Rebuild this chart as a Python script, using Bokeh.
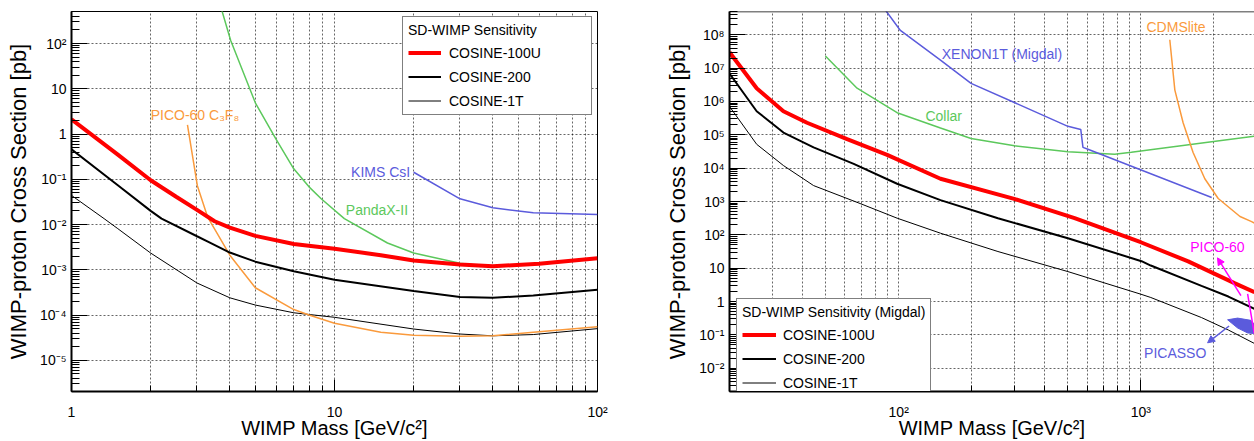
import numpy as np
from bokeh.plotting import figure
from bokeh.models import (FixedTicker, CustomJSTickFormatter, Legend, LegendItem,
                          Arrow, NormalHead, Span, Range1d)
from bokeh.layouts import row
from bokeh.embed import file_html
from bokeh.resources import INLINE
from bokeh.core.properties import value

FONT = "Liberation Sans"
RED = "#ff0000"
ORANGE = "#fa9a3c"
GREEN = "#5cc85c"
BLUE = "#5b5bdc"
MAGENTA = "#ff00ff"

# ---------------- Left panel: SD-WIMP sensitivity ----------------
L_m_100u = [1, 1.5, 2, 2.5, 3, 3.5, 4, 5, 7, 10, 15, 20, 30, 40, 60, 100]
L_s_100u = [2.1, 0.35, 0.095, 0.041, 0.021, 0.0118, 0.0085, 0.0056, 0.0037, 0.0029,
            0.0021, 0.0016, 0.0013, 0.0012, 0.00135, 0.0018]
L_m_200 = [1, 1.5, 2, 2.2, 3, 3.3, 4, 5, 7, 10, 20, 30, 40, 57, 100]
L_s_200 = [0.46, 0.074, 0.020, 0.0135, 0.0055, 0.0042, 0.0024, 0.00151, 0.00093,
           0.0006, 0.00034, 0.00025, 0.00024, 0.00027, 0.00036]
L_m_1t = [1, 1.33, 1.5, 2, 3, 4, 5, 7, 10, 20, 30, 40, 57, 100]
L_s_1t = [0.044, 0.0135, 0.0081, 0.00234, 0.00051, 0.00024, 0.000166, 0.000112,
          0.000089, 0.000049, 0.000038, 0.0000347, 0.000037, 0.00005]
L_m_pico = [2.76, 3.01, 3.29, 4, 5, 7, 8, 10, 15, 20, 30, 40, 57, 100]
L_s_pico = [1.6, 0.072, 0.0148, 0.0021, 0.0004, 0.000132, 0.0001, 0.000066, 0.0000417,
            0.0000355, 0.0000339, 0.0000347, 0.0000417, 0.000055]
L_m_panda = [3.7, 4.03, 5, 6, 7, 8, 8.9, 10.9, 15.9, 20, 30, 38]
L_s_panda = [630, 117, 4.9, 0.76, 0.17, 0.068, 0.037, 0.0135, 0.0039, 0.00234, 0.0014, 0.0012]
L_m_kims = [20, 30, 40, 57, 100]
L_s_kims = [0.143, 0.037, 0.0234, 0.0182, 0.0166]

L_lab_text = ["PICO-60 C\u2083F\u2088", "PandaX-II", "KIMS CsI"]
L_lab_m = [2.0, 11.04, 19.4]
L_lab_s = [2.57, 0.0207, 0.148]
L_lab_col = [ORANGE, GREEN, BLUE]
L_lab_align = ["left", "left", "right"]

# ---------------- Right panel: SD-WIMP sensitivity (Migdal) ----------------
R_m_100u = [20, 25.9, 33.4, 41.8, 61.2, 89.6, 148.8, 300, 533, 1000, 1570, 2450, 2950]
R_s_100u = [3.0e7, 2.5e6, 5.1e5, 2.3e5, 7.4e4, 2.5e4, 4800, 1200, 316, 60, 16, 3.5, 1.9]
R_m_200 = [20, 25.9, 33.4, 44.5, 65.2, 98.5, 148.8, 257, 500, 1007, 1100, 1782, 2300, 2950]
R_s_200 = [6.9e6, 5.1e5, 1.17e5, 4.2e4, 1.35e4, 3400, 1100, 316, 79, 16.2, 12, 2.95, 1.41, 0.6]
R_m_1t = [20, 25.9, 33.4, 44.5, 69.3, 98.5, 148.8, 257, 500, 1000, 1100, 1782, 2300, 2950]
R_s_1t = [7.1e5, 5.2e4, 1.2e4, 3000, 870, 316, 112, 31.6, 7.9, 1.66, 1.32, 0.33, 0.14, 0.055]
R_m_collar = [49.8, 67.3, 98.5, 148.8, 199, 301, 500, 780, 914, 1963, 2950]
R_s_collar = [2.3e7, 2.5e6, 4.6e5, 1.6e5, 7.8e4, 4.7e4, 3.1e4, 2.6e4, 3.0e4, 6.2e4, 9.1e4]
R_m_xenon = [88, 101.6, 148.8, 199, 500, 565, 577, 605, 1963]
R_s_xenon = [5.6e8, 1.35e8, 1.74e7, 3.5e6, 1.8e5, 1.45e5, 4.2e4, 3.7e4, 1320]
R_m_cdms = [1318, 1383, 1496, 1645, 1839, 2089, 2570, 2870, 2950]
R_s_cdms = [7.1e7, 2.2e6, 2.3e5, 2.95e4, 4800, 1230, 355, 250, 225]
R_m_pico = [2763, 2943]
R_s_pico = [1.7, 0.109]
R_m_picasso = [2284, 2512, 2851, 2962, 2962, 2764, 2512]
R_s_picasso = [0.283, 0.318, 0.272, 0.197, 0.109, 0.114, 0.161]

R_lab_text = ["XENON1T (Migdal)", "Collar", "CDMSlite", "PICO-60", "PICASSO"]
R_lab_m = [150.6, 128.9, 1056, 1600, 1866]
R_lab_s = [2.73e7, 3.6e5, 1.76e8, 42.4, 0.029]
R_lab_col = [BLUE, GREEN, ORANGE, MAGENTA, BLUE]
R_lab_align = ["left", "left", "left", "left", "right"]

# arrows: (m_start, s_start, m_end, s_end)
R_arrow_pico = (2593, 1.5, 2075, 20.4)
R_arrow_picasso = (2317, 0.184, 1888, 0.0577)

SUP_JS = r"""
const e = Math.round(Math.log10(tick));
if (e === 0) return "1";
if (e === 1) return "10";
const sup = {"-": "\u207b", "0": "\u2070", "1": "\u00b9", "2": "\u00b2", "3": "\u00b3",
             "4": "\u2074", "5": "\u2075", "6": "\u2076", "7": "\u2077", "8": "\u2078", "9": "\u2079"};
return "10" + String(e).split("").map(c => sup[c]).join("");
"""


def log_ticks(lo_exp, hi_exp, lo, hi):
    major = [10.0 ** e for e in range(lo_exp, hi_exp + 1) if lo <= 10.0 ** e <= hi]
    minor = [k * 10.0 ** e for e in range(lo_exp - 1, hi_exp + 1) for k in range(2, 10)
             if lo <= k * 10.0 ** e <= hi]
    return FixedTicker(ticks=major, minor_ticks=minor)


def make_fig(width, xr, yr, mbl, mbr):
    p = figure(width=width, height=441, x_axis_type="log", y_axis_type="log",
               x_range=Range1d(*xr), y_range=Range1d(*yr),
               output_backend="svg", toolbar_location=None,
               min_border_left=mbl, min_border_right=mbr, min_border_top=11,
               min_border_bottom=0)
    p.background_fill_color = "white"
    p.border_fill_color = "white"
    p.xaxis.ticker = log_ticks(int(np.floor(np.log10(xr[0]))), int(np.ceil(np.log10(xr[1]))), xr[0], xr[1])
    p.yaxis.ticker = log_ticks(int(np.floor(np.log10(yr[0]))), int(np.ceil(np.log10(yr[1]))), yr[0], yr[1])
    for ax in (p.xaxis[0], p.yaxis[0]):
        ax.formatter = CustomJSTickFormatter(code=SUP_JS)
        ax.axis_line_width = 2
        ax.axis_line_color = "black"
        ax.major_tick_out = 0
        ax.minor_tick_out = 0
        ax.major_tick_line_color = "black"
        ax.minor_tick_line_color = "black"
        ax.major_label_text_font = FONT
        ax.major_label_text_font_size = "14px"
        ax.major_label_text_color = "black"
        ax.axis_label_text_font = FONT
        ax.axis_label_text_font_style = "normal"
        ax.axis_label_text_color = "black"
    p.yaxis.major_tick_in = 16
    p.yaxis.minor_tick_in = 8
    p.xaxis.major_tick_in = 12
    p.xaxis.minor_tick_in = 6
    p.yaxis.major_label_standoff = 5
    p.xaxis.major_label_standoff = 12
    p.yaxis.axis_label_standoff = 6
    p.xaxis.axis_label_standoff = -6
    p.xaxis.axis_label = "WIMP Mass [GeV/c\u00b2]"
    p.yaxis.axis_label = "WIMP-proton Cross Section [pb]"
    p.xaxis.axis_label_text_font_size = "20px"
    p.yaxis.axis_label_text_font_size = "22px"
    for g in (p.xgrid[0], p.ygrid[0]):
        g.grid_line_color = "black"
        g.grid_line_alpha = 0.6
        g.grid_line_dash = "2 2"
        g.grid_line_width = 1
    p.xgrid.minor_grid_line_color = "black"
    p.xgrid.minor_grid_line_alpha = 0.6
    p.xgrid.minor_grid_line_dash = "2 2"
    p.ygrid.minor_grid_line_color = None
    return p


def style_legend(leg, title, glyph_w, standoff, label_w):
    leg.title = title
    leg.title_text_font = FONT
    leg.title_text_font_size = "14px"
    leg.title_text_font_style = "normal"
    leg.title_text_color = "black"
    leg.title_standoff = 6
    leg.label_text_font = FONT
    leg.label_text_font_size = "14px"
    leg.label_text_color = "black"
    leg.glyph_width = glyph_w
    leg.glyph_height = 17
    leg.label_height = 17
    leg.label_standoff = standoff
    leg.label_width = label_w
    leg.spacing = 7
    leg.padding = 5
    leg.border_line_color = "black"
    leg.border_line_width = 1
    leg.background_fill_color = "white"
    leg.background_fill_alpha = 1.0


# ---------------- Left figure ----------------
p1 = make_fig(660, (1, 100), (2.04e-6, 510), 71, 63)
p1.outline_line_color = "black"
p1.outline_line_width = 1

p1.line(L_m_panda, L_s_panda, line_color=GREEN, line_width=1.5)
p1.line(L_m_kims, L_s_kims, line_color=BLUE, line_width=1.5)
r1_1t = p1.line(L_m_1t, L_s_1t, line_color="black", line_width=1)
p1.line(L_m_pico, L_s_pico, line_color=ORANGE, line_width=1.5)
r1_200 = p1.line(L_m_200, L_s_200, line_color="black", line_width=2)
r1_100u = p1.line(L_m_100u, L_s_100u, line_color=RED, line_width=4)

for t, m, s, c, a in zip(L_lab_text, L_lab_m, L_lab_s, L_lab_col, L_lab_align):
    p1.text(x=[m], y=[s], text=[t], text_color=c, text_font=value(FONT),
            text_font_size="14px", text_align=a, text_baseline="middle")

leg1 = Legend(items=[LegendItem(label="COSINE-100U", renderers=[r1_100u]),
                     LegendItem(label="COSINE-200", renderers=[r1_200]),
                     LegendItem(label="COSINE-1T", renderers=[r1_1t])],
              location="top_right")
style_legend(leg1, "SD-WIMP Sensitivity", 33, 8, 137)
leg1.margin = 5
p1.add_layout(leg1)

# ---------------- Right figure ----------------
p2 = make_fig(594, (20, 2950), (2.0e-3, 5.0e8), 69, 0)
p2.outline_line_color = None
p2.add_layout(Span(location=5.0e8, dimension="width", line_color="black", line_width=1.5))

p2.patch(R_m_picasso, R_s_picasso, fill_color=BLUE, line_color=BLUE, line_width=1)
p2.line(R_m_collar, R_s_collar, line_color=GREEN, line_width=1.5)
p2.line(R_m_xenon, R_s_xenon, line_color=BLUE, line_width=1.5)
p2.line(R_m_cdms, R_s_cdms, line_color=ORANGE, line_width=1.5)
r2_1t = p2.line(R_m_1t, R_s_1t, line_color="black", line_width=1)
r2_200 = p2.line(R_m_200, R_s_200, line_color="black", line_width=2)
r2_100u = p2.line(R_m_100u, R_s_100u, line_color=RED, line_width=4)
p2.line(R_m_pico, R_s_pico, line_color=MAGENTA, line_width=1.5)

p2.add_layout(Arrow(x_start=R_arrow_pico[0], y_start=R_arrow_pico[1],
                    x_end=R_arrow_pico[2], y_end=R_arrow_pico[3],
                    line_color=MAGENTA, line_width=1.5,
                    end=NormalHead(size=7, fill_color=MAGENTA, line_color=MAGENTA)))
p2.add_layout(Arrow(x_start=R_arrow_picasso[0], y_start=R_arrow_picasso[1],
                    x_end=R_arrow_picasso[2], y_end=R_arrow_picasso[3],
                    line_color=BLUE, line_width=1.5,
                    end=NormalHead(size=7, fill_color=BLUE, line_color=BLUE)))

for t, m, s, c, a in zip(R_lab_text, R_lab_m, R_lab_s, R_lab_col, R_lab_align):
    p2.text(x=[m], y=[s], text=[t], text_color=c, text_font=value(FONT),
            text_font_size="14px", text_align=a, text_baseline="middle")

leg2 = Legend(items=[LegendItem(label="COSINE-100U", renderers=[r2_100u]),
                     LegendItem(label="COSINE-200", renderers=[r2_200]),
                     LegendItem(label="COSINE-1T", renderers=[r2_1t])],
              location=(7, -6))
style_legend(leg2, "SD-WIMP Sensitivity (Migdal)", 34, 7, 140)
p2.add_layout(leg2)

layout = row(p1, p2)
open("out.html", "w").write(file_html(layout, INLINE, title="COSINE SD-WIMP sensitivity"))
